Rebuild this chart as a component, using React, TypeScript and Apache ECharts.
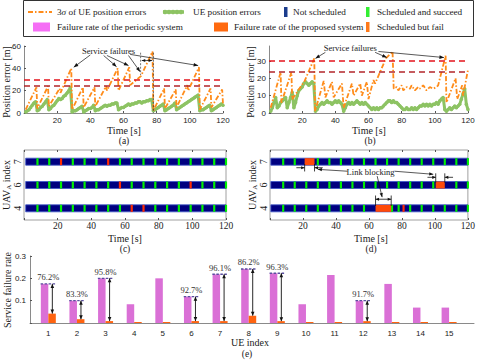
import React, { useEffect, useRef } from "react";
import * as echarts from "echarts";

// ---------------- data ----------------
// (a) periodic system: 3-sigma of UE position error (vertices of the sawtooth)
const aSigmaT = [1, 7.5, 8, 14.5, 15, 21.5, 22, 28.5, 29, 35.5, 36, 42.5, 43, 49.5, 50, 56.5, 57, 63.5, 64, 70.5, 77.5, 78, 84.5, 85, 91.5, 92, 98.5, 99, 105.5, 106, 112.5, 113, 119.5, 120];
const aSigmaV = [3, 23, 4, 24, 6, 22, 18, 40, 3, 23, 5, 23, 6, 24, 20, 40, 20, 41, 25, 33, 55, 2, 22, 4, 21, 5, 25, 20, 41, 3, 22, 5, 21, 8];
// (a) UE position error, t = 1..120
const aErrV = [
  1, 2, 3, 5, 7, 9, 10,
  2, 3, 5, 6, 8, 10, 12,
  3, 4, 6, 7, 9, 11, 13,
  12, 13, 15, 16, 18, 20, 23,
  1, 2, 2, 3, 4, 5, 6,
  1, 2, 3, 4, 4, 5, 7,
  2, 3, 3, 4, 5, 6, 7,
  6, 7, 7, 8, 8, 9, 9,
  3, 4, 5, 5, 6, 7, 8,
  7, 8, 8, 9, 9, 10, 10,
  9, 10, 10, 11, 11, 12, 12,
  2, 3, 4, 5, 6, 7, 8,
  2, 3, 4, 5, 6, 7, 9,
  3, 4, 5, 6, 7, 8, 9,
  10, 11, 12, 13, 14, 15, 16,
  2, 3, 3, 4, 5, 6, 7,
  2, 3, 4, 5, 6, 7, 8,
  7,
];
// (b) proposed system
const bSigmaT = [1, 7, 7.5, 13.5, 14, 21.5, 27.3, 27.8, 33, 34, 38, 39, 44, 45, 50, 51, 55, 56, 59, 60, 63, 64, 70.5, 74.5, 75.2, 77, 78, 80, 81, 83, 85, 86, 88, 90, 91, 93, 95, 97, 99, 101, 102, 106.5, 107, 112.5, 113.5, 116.5, 117, 120];
const bSigmaV = [3, 23.5, 6, 23.5, 8, 18.5, 31.5, 1, 18.5, 9, 18, 9, 17, 3, 17, 10, 17, 10, 18, 8, 19, 17, 31.5, 35.5, 14, 15, 13, 16, 13, 15, 14, 16, 13, 15, 14, 16, 13, 15, 14, 15, 16, 33, 6, 20, 8, 16, 10, 25];
const bErrV = [
  1, 3, 6, 9, 3, 4, 6, 7, 8, 9,
  3, 6, 9, 12, 3, 6, 10, 13, 14, 15,
  17, 18, 17, 16, 17, 18, 17, 1, 2, 4,
  5, 6, 5, 6, 7, 6, 6, 5, 6, 7,
  6, 7, 6, 5, 1, 3, 5, 6, 5, 6,
  5, 6, 7, 6, 5, 6, 5, 6, 5, 4,
  3, 2, 3, 2, 3, 2, 3, 3, 4, 5,
  6, 7, 7, 6, 7, 6, 6, 5, 4, 3,
  2, 2, 3, 2, 2, 3, 2, 3, 2, 3,
  4, 4, 5, 4, 5, 4, 5, 4, 5, 5,
  6, 5, 7, 8, 9, 2, 1, 2, 3, 2,
  3, 4, 3, 4, 5, 8, 11, 14, 5, 2,
];
const thresholdHigh = 30;
const thresholdLow = 24;

// (c)/(d) UAV scheduling
const uavRows = ["4", "6", "7"];
const schedTimes = [8, 15, 22, 29, 36, 43, 50, 57, 64, 71, 78, 85, 92, 99, 106, 113, 120];
const cFail: Record<string, number[]> = { "7": [22, 50], "6": [57, 99], "4": [64, 71] };
const dBlocks: Record<string, number[][]> = { "7": [[21, 27]], "6": [[100.5, 106]], "4": [[64, 73.5]] };
const dExtraSuccess: Record<string, number[]> = { "7": [], "6": [], "4": [74] };
const dFail: Record<string, number[]> = { "7": [], "6": [], "4": [81] };

// (e) service failure rate
const ueIndex = [1, 2, 3, 4, 5, 6, 7, 8, 9, 10, 11, 12, 13, 14, 15];
const periodicRate = [0.175, 0.1, 0.2, 0.084, 0.2, 0.118, 0.218, 0.242, 0.223, 0.084, 0.215, 0.1, 0.175, 0.069, 0.069];
const proposedRate = [0.042, 0.017, 0.0085, 0, 0, 0.0086, 0.0085, 0.033, 0.0083, 0, 0, 0.0083, 0, 0, 0];
const reductionUE = [1, 2, 3, 6, 7, 8, 9, 12];
const reductionText = ["76.2%", "83.3%", "95.8%", "92.7%", "96.1%", "86.2%", "96.3%", "91.7%"];

// ---------------- style ----------------
const SERIF = "'Liberation Serif', 'Times New Roman', serif";
const SANS = "'Liberation Sans', Arial, sans-serif";
const ORANGE = "#FF8C1A";
const GREENL = "#8DC363";
const NAVY = "#000080";
const MARKG = "#00F000";
const MARKR = "#FF2A00";
const PINK = "#DA70D6";
const ORBAR = "#FF6410";
const AXC = "#8a8a8a";

const rowVal = (r: string) => uavRows.indexOf(r) + 0.5;

function buildRows(kind: "c" | "d") {
  const out: number[][] = [];
  uavRows.forEach((r) => {
    const y = rowVal(r);
    out.push([kind === "c" ? 1 : 0.5, 120, y, 0]);
    const blocks = kind === "d" ? dBlocks[r] : [];
    schedTimes.forEach((t) => {
      const blocked = blocks.some((b) => t >= b[0] - 0.6 && t <= b[1] + 0.6);
      if (blocked) return;
      const fail = kind === "c" && cFail[r].includes(t);
      out.push([t - 0.65, t + 0.65, y, fail ? 2 : 1]);
    });
    if (kind === "d") {
      dExtraSuccess[r].forEach((t) => out.push([t - 0.65, t + 0.65, y, 1]));
      dFail[r].forEach((t) => out.push([t - 0.65, t + 0.65, y, 2]));
      blocks.forEach((b) => out.push([b[0], b[1], y, 3]));
    }
  });
  return out;
}

const rowColors = [NAVY, MARKG, MARKR, "#FF4A0A"];

function renderRow(params: any, api: any) {
  const x0 = api.value(0), x1 = api.value(1), y = api.value(2), k = api.value(3);
  const p0 = api.coord([x0, y]);
  const p1 = api.coord([x1, y]);
  const h = 7;
  return {
    type: "rect",
    shape: { x: p0[0], y: p0[1] - h / 2, width: Math.max(p1[0] - p0[0], 1.5), height: h },
    style: k === 0 ? { fill: NAVY, stroke: "#3d55c8", lineWidth: 0.8 } : { fill: rowColors[k] },
  };
}

function timeAxis(grid: number, labelFont: any, extra: any = {}) {
  return {
    gridIndex: grid,
    type: "value",
    min: 0,
    max: 120,
    interval: 20,
    axisLine: { show: true, lineStyle: { color: AXC, width: 1 } },
    axisTick: { show: true, inside: true, length: 2, lineStyle: { color: "#555" } },
    axisLabel: { formatter: (v: number) => (v === 0 ? "" : String(v)), color: "#222", margin: 3, ...labelFont },
    splitLine: { show: false },
    ...extra,
  };
}

function line(p: number[], q: number[], color = "#111", lw = 0.8, dash?: number[]) {
  return { type: "line", silent: true, z: 100, shape: { x1: p[0], y1: p[1], x2: q[0], y2: q[1] }, style: { stroke: color, lineWidth: lw, lineDash: dash } };
}
function head(p: number[], q: number[], color = "#111", len = 5, wid = 2) {
  const dx = q[0] - p[0], dy = q[1] - p[1];
  const L = Math.hypot(dx, dy) || 1;
  const ux = dx / L, uy = dy / L;
  const bx = q[0] - ux * len, by = q[1] - uy * len;
  return {
    type: "polygon", silent: true, z: 101,
    shape: { points: [[q[0], q[1]], [bx - uy * wid, by + ux * wid], [bx + uy * wid, by - ux * wid]] },
    style: { fill: color },
  };
}
function arrow(p: number[], q: number[], color = "#111", both = false, lw = 0.8, len = 5, wid = 2) {
  const els: any[] = [line(p, q, color, lw), head(p, q, color, len, wid)];
  if (both) els.push(head(q, p, color, len, wid));
  return els;
}
function txt(x: number, y: number, text: string, size: number, extra: any = {}) {
  return {
    type: "text", x, y, silent: true, z: 100, ...extra,
    style: { text, fontFamily: SERIF, fontSize: size, fill: "#1a1a1a", align: "center", verticalAlign: "middle", ...(extra.style || {}) },
  };
}

export default function App() {
  const ref = useRef<HTMLDivElement>(null);
  useEffect(() => {
    if (!ref.current) return;
    const chart = echarts.init(ref.current, null, { renderer: "svg" });
    const sansTick = { fontFamily: SANS, fontSize: 8 };
    const serifTick = { fontFamily: SERIF, fontSize: 9.5, margin: 1 };
    const thresholdMark = {
      silent: true,
      symbol: "none",
      label: { show: false },
      lineStyle: { type: [6, 4], width: 1.6 },
      data: [
        { yAxis: thresholdHigh, lineStyle: { color: "#E3141C" } },
        { yAxis: thresholdLow, lineStyle: { color: "#B3262A" } },
      ],
    };
    const rowYAxis = (grid: number) => ({
      gridIndex: grid, type: "value", min: 0, max: 3,
      axisLine: { show: false },
      axisTick: { show: false },
      splitLine: { show: false },
      axisLabel: {
        customValues: uavRows.map(rowVal),
        formatter: (v: number) => uavRows[Math.floor(v)],
        rotate: 90, fontFamily: SERIF, fontSize: 10, color: "#222", margin: 2,
      },
    });
    const option: any = {
      animation: false,
      backgroundColor: "#fff",
      grid: [
        { left: 24, top: 46, width: 199, height: 67 },
        { left: 269, top: 46, width: 199, height: 67 },
        { left: 24, top: 150, width: 202, height: 70, show: true, borderColor: "#a0a0a0", borderWidth: 1 },
        { left: 270, top: 150, width: 199, height: 70, show: true, borderColor: "#a0a0a0", borderWidth: 1 },
        { left: 30, top: 256, width: 444, height: 67 },
      ],
      xAxis: [
        timeAxis(0, sansTick),
        timeAxis(1, sansTick),
        timeAxis(2, serifTick, { axisLine: { show: false } }),
        timeAxis(3, serifTick, { axisLine: { show: false } }),
        {
          gridIndex: 4, type: "value", min: 0.36, max: 15.87,
          axisLine: { show: true, lineStyle: { color: AXC } },
          axisTick: { show: false },
          splitLine: { show: false },
          axisLabel: { customValues: ueIndex, fontFamily: SANS, fontSize: 8, color: "#222", margin: 6 },
        },
        timeAxis(2, serifTick, { position: "top", axisLine: { show: false }, axisLabel: { show: false } }),
        timeAxis(3, serifTick, { position: "top", axisLine: { show: false }, axisLabel: { show: false } }),
      ],
      yAxis: [
        {
          gridIndex: 0, type: "value", min: 0, max: 60, interval: 20,
          axisLine: { show: true, lineStyle: { color: AXC } },
          axisTick: { show: true, inside: true, length: 2, lineStyle: { color: "#555" } },
          splitLine: { show: false },
          axisLabel: { ...sansTick, color: "#222", margin: 3 },
        },
        {
          gridIndex: 1, type: "value", min: 0, max: 38.66,
          axisLine: { show: true, lineStyle: { color: AXC } },
          axisTick: { show: true, inside: true, length: 2, customValues: [0, 10, 20, 30], lineStyle: { color: "#555" } },
          splitLine: { show: false },
          axisLabel: { ...sansTick, color: "#222", margin: 3, customValues: [0, 10, 20, 30] },
        },
        rowYAxis(2),
        rowYAxis(3),
        {
          gridIndex: 4, type: "value", min: 0, max: 0.3, interval: 0.1,
          axisLine: { show: true, lineStyle: { color: AXC } },
          axisTick: { show: true, inside: true, length: 2, lineStyle: { color: "#555" } },
          splitLine: { show: false },
          axisLabel: { ...sansTick, color: "#222", margin: 4, formatter: (v: number) => (v === 0 ? "" : v.toFixed(1)) },
        },
      ],
      series: [
        {
          type: "line", xAxisIndex: 0, yAxisIndex: 0, z: 2,
          data: aErrV.map((v, i) => [i + 1, v]),
          lineStyle: { color: GREENL, width: 3 },
          itemStyle: { color: GREENL },
          symbol: "circle", symbolSize: 3.5, showSymbol: true,
        },
        {
          type: "line", xAxisIndex: 0, yAxisIndex: 0, z: 3,
          data: aSigmaT.map((t, i) => [t, aSigmaV[i]]),
          lineStyle: { color: ORANGE, width: 1.8, type: [5, 2, 1.5, 2] },
          showSymbol: false,
          markLine: thresholdMark,
        },
        {
          type: "line", xAxisIndex: 1, yAxisIndex: 1, z: 2,
          data: bErrV.map((v, i) => [i + 1, v]),
          lineStyle: { color: GREENL, width: 3 },
          itemStyle: { color: GREENL },
          symbol: "circle", symbolSize: 3.5, showSymbol: true,
        },
        {
          type: "line", xAxisIndex: 1, yAxisIndex: 1, z: 3,
          data: bSigmaT.map((t, i) => [t, bSigmaV[i]]),
          lineStyle: { color: ORANGE, width: 1.8, type: [5, 2, 1.5, 2] },
          showSymbol: false,
          markLine: thresholdMark,
        },
        {
          type: "custom", xAxisIndex: 2, yAxisIndex: 2,
          renderItem: renderRow, encode: { x: [0, 1], y: 2 },
          data: buildRows("c"),
        },
        {
          type: "custom", xAxisIndex: 3, yAxisIndex: 3,
          renderItem: renderRow, encode: { x: [0, 1], y: 2 },
          data: buildRows("d"),
        },
        {
          type: "bar", xAxisIndex: 4, yAxisIndex: 4,
          data: ueIndex.map((u, i) => [u, periodicRate[i]]),
          barWidth: 7.5, barGap: "0%",
          itemStyle: { color: PINK },
        },
        {
          type: "bar", xAxisIndex: 4, yAxisIndex: 4,
          data: ueIndex.map((u, i) => [u, proposedRate[i]]),
          barWidth: 7.5, barGap: "0%", barMinHeight: 1,
          itemStyle: { color: ORBAR },
        },
      ],
    };
    chart.setOption(option);

    const P = (g: number, x: number, y: number) => chart.convertToPixel({ xAxisIndex: g, yAxisIndex: g }, [x, y]) as number[];
    const G: any[] = [];

    // ---- legend ----
    G.push({ type: "rect", silent: true, shape: { x: 23.5, y: 0.5, width: 450, height: 36 }, style: { fill: "#fff", stroke: "#333", lineWidth: 1 } });
    const LF = 9.2;
    const lt = (x: number, y: number, s: string, rich?: any) => ({
      type: "text", x, y, silent: true,
      style: { text: s, fontFamily: SERIF, fontSize: LF, fill: "#1a1a1a", align: "left", verticalAlign: "middle", rich },
    });
    G.push(line([28, 12], [52, 12], ORANGE, 2, [5, 2, 1.5, 2]));
    G.push(lt(57, 12, "3{i|σ} of UE position errors", { i: { fontStyle: "italic", fontFamily: SERIF, fontSize: LF } }));
    G.push(line([163, 12], [184, 12], GREENL, 3.5));
    [165, 169, 173, 177, 181].forEach((x) => G.push({ type: "circle", silent: true, shape: { cx: x, cy: 12, r: 2.2 }, style: { fill: GREENL } }));
    G.push(lt(193, 12, "UE position errors"));
    G.push({ type: "rect", silent: true, shape: { x: 284, y: 7, width: 3.5, height: 10 }, style: { fill: "#1B3C8C" } });
    G.push(lt(293, 12, "Not scheduled"));
    G.push({ type: "rect", silent: true, shape: { x: 366, y: 7, width: 3.5, height: 10 }, style: { fill: "#33EE33" } });
    G.push(lt(377, 12, "Scheduled and succeed"));
    G.push({ type: "rect", silent: true, shape: { x: 33, y: 22.5, width: 17, height: 9 }, style: { fill: "#F56EF5" } });
    G.push(lt(57, 27, "Failure rate of the periodic system"));
    G.push({ type: "rect", silent: true, shape: { x: 214, y: 22.5, width: 14, height: 9 }, style: { fill: "#FF6A10" } });
    G.push(lt(234, 27, "Failure rate of the proposed system"));
    G.push({ type: "rect", silent: true, shape: { x: 366, y: 22, width: 3.5, height: 10 }, style: { fill: "#FF7A1A" } });
    G.push(lt(377, 27, "Scheduled but fail"));

    // ---- axis titles and captions ----
    const rot = { rotation: Math.PI / 2 };
    G.push(txt(6, 82, "Position error [m]", 10, rot));
    G.push(txt(250, 82, "Position error [m]", 10, rot));
    G.push(txt(124, 130, "Time [s]", 10));
    G.push(txt(369, 130, "Time [s]", 10));
    G.push(txt(124, 141, "(a)", 9.5));
    G.push(txt(370, 141, "(b)", 9.5));
    const uavRich = { s: { fontSize: 7, fontFamily: SERIF, verticalAlign: "bottom", lineHeight: 13 }, n: { fontSize: 10, fontFamily: SERIF, lineHeight: 13 } };
    G.push(txt(6, 185, "{n|UAV}{s|A}{n| index}", 10, { rotation: Math.PI / 2, style: { rich: uavRich } }));
    G.push(txt(252, 185, "{n|UAV}{s|A}{n| index}", 10, { rotation: Math.PI / 2, style: { rich: uavRich } }));
    G.push(txt(125, 238.5, "Time [s]", 10));
    G.push(txt(371, 238.5, "Time [s]", 10));
    G.push(txt(125, 249, "(c)", 9.5));
    G.push(txt(371, 249, "(d)", 9.5));
    G.push(txt(7, 290, "Service failure rate", 10, rot));
    G.push(txt(250, 342, "UE index", 10));
    G.push(txt(247, 354, "(e)", 9.5));

    // ---- (a) annotations ----
    const ta = P(0, 51, 55.5);
    G.push(txt(ta[0], ta[1], "Service failures", 8.5));
    [
      [[40, 52], [30, 41]],
      [[48, 51.5], [55.8, 41.5]],
      [[50, 51.5], [63, 42.5]],
      [[63, 51.5], [70, 37]],
      [[64, 52.5], [105, 42.5]],
    ].forEach(([p, q]) => G.push(...arrow(P(0, p[0], p[1]), P(0, q[0], q[1]), "#111", false, 0.7, 4.5, 1.8)));
    G.push(line(P(0, 70.3, 54), P(0, 70.3, 34), "#555", 0.8, [2, 1.5]));
    G.push(line(P(0, 78, 54), P(0, 78, 0), "#333", 0.8, [2, 1.5]));
    G.push(...arrow(P(0, 71, 47), P(0, 77.3, 47), "#111", true, 0.7, 3.5, 1.6));

    // ---- (b) annotations ----
    const tb = P(1, 49, 37.3);
    G.push(txt(tb[0], tb[1], "Service failures", 8.5));
    [
      [[34, 35], [28, 31.5]],
      [[64, 35], [71, 32]],
      [[66, 35.5], [105.5, 32]],
    ].forEach(([p, q]) => G.push(...arrow(P(1, p[0], p[1]), P(1, q[0], q[1]), "#111", false, 0.7, 4.5, 1.8)));

    // ---- (d) link blocking annotations ----
    const r7 = rowVal("7"), r6 = rowVal("6"), r4 = rowVal("4");
    const b7 = dBlocks["7"][0], b6 = dBlocks["6"][0], b4 = dBlocks["4"][0];
    // row 7: markers below
    G.push(line(P(3, b7[0], r7 - 0.1), P(3, b7[0], r7 - 0.42), "#111", 0.8));
    G.push(line(P(3, b7[1], r7 - 0.1), P(3, b7[1], r7 - 0.42), "#111", 0.8));
    G.push(...arrow(P(3, b7[0] - 5, r7 - 0.26), P(3, b7[0], r7 - 0.26), "#111", false, 0.8, 3.5, 1.6));
    G.push(...arrow(P(3, b7[1] + 5, r7 - 0.26), P(3, b7[1], r7 - 0.26), "#111", false, 0.8, 3.5, 1.6));
    // row 6: markers above
    G.push(line(P(3, b6[0], r6 + 0.1), P(3, b6[0], r6 + 0.5), "#111", 0.8));
    G.push(line(P(3, b6[1], r6 + 0.1), P(3, b6[1], r6 + 0.5), "#111", 0.8));
    G.push(...arrow(P(3, b6[0] - 5, r6 + 0.33), P(3, b6[0], r6 + 0.33), "#111", false, 0.8, 3.5, 1.6));
    G.push(...arrow(P(3, b6[1] + 5, r6 + 0.33), P(3, b6[1], r6 + 0.33), "#111", false, 0.8, 3.5, 1.6));
    // row 4: markers above with double arrow
    G.push(line(P(3, b4[0], r4 + 0.1), P(3, b4[0], r4 + 0.55), "#111", 0.8));
    G.push(line(P(3, b4[1], r4 + 0.1), P(3, b4[1], r4 + 0.55), "#111", 0.8));
    G.push(...arrow(P(3, b4[0], r4 + 0.39), P(3, b4[1], r4 + 0.39), "#111", true, 0.8, 3.5, 1.6));
    const tl = P(3, 61, 2.07);
    G.push(txt(tl[0], tl[1], "Link blocking", 8.5));
    G.push(...arrow(P(3, 47, 2.09), P(3, 29, 2.17), "#111", false, 0.7, 4, 1.6));
    G.push(...arrow(P(3, 75.5, 2.09), P(3, 99, 1.96), "#111", false, 0.7, 4, 1.6));
    G.push(...arrow(P(3, 65, 1.88), P(3, 68, 0.98), "#111", false, 0.7, 4, 1.6));

    // ---- (e) reduction annotations ----
    reductionUE.forEach((u, k) => {
      const i = ueIndex.indexOf(u);
      const top = periodicRate[i], low = proposedRate[i];
      const pl = P(4, u - 0.27, top), pr = P(4, u + 0.27, top);
      G.push(line(pl, pr, "#5B4FA0", 1.4, [2.5, 1.5]));
      G.push(...arrow(P(4, u + 0.14, top), P(4, u + 0.14, low), "#111", true, 0.9, 4, 1.8));
      const pt = P(4, u, top);
      G.push(txt(pt[0], pt[1] - 6.5, reductionText[k], 8.5, { style: { fill: "#333" } }));
    });

    chart.setOption({ graphic: { elements: G } });
    return () => chart.dispose();
  }, []);
  return <div ref={ref} style={{ width: 478, height: 360, position: "absolute", left: 0, top: 0 }} />;
}
